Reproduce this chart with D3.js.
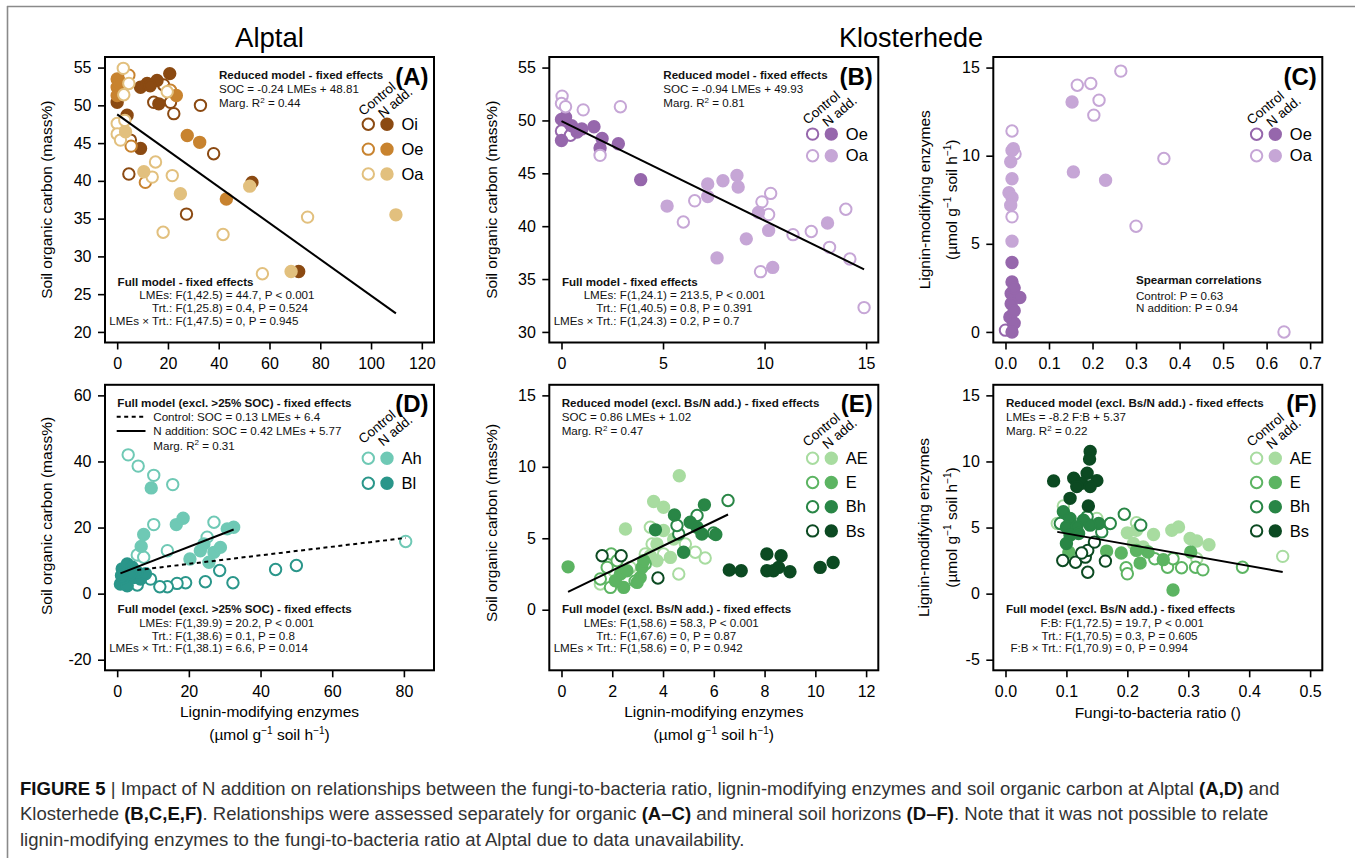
<!DOCTYPE html>
<html><head><meta charset="utf-8">
<script src="https://cdn.jsdelivr.net/npm/d3@7/dist/d3.min.js"></script>
<style>
html,body{margin:0;padding:0;background:#fff;}
svg{display:block;font-family:"Liberation Sans",Arial,Helvetica,sans-serif;}
</style></head><body>
<svg id="c" width="1355" height="858"></svg>
<script>
// ---------------- DATA ----------------
// Panel A (Alptal, organic horizons): [LMEs, SOC]
const A_Oi_ctrl = [[18.3,52.7],[14.4,50.4],[21.0,50.4],[22.3,48.9],[32.8,50.0],[5.2,45.4],[38.0,43.6],[4.6,40.9],[27.3,35.6]];
const A_Oi_N    = [[0,50.4],[9.2,52.4],[11.8,52.9],[15.7,53.3],[20.7,54.2],[16.4,50.2],[3.9,48.7],[9.2,44.3],[53.1,39.8],[71.5,28.0],[13.0,52.6]];
const A_Oe_ctrl = [[4.6,54.0],[5.5,44.6],[11.1,39.8],[21.0,52.0]];
const A_Oe_N    = [[0,53.5],[0,52.4],[0,51.3],[23.3,51.3],[27.6,46.0],[32.5,45.1],[43.0,37.6],[1.0,53.0]];
const A_Oa_ctrl = [[2.4,54.9],[4.6,52.9],[2.6,51.4],[0,47.6],[0,46.2],[1.3,45.4],[15.1,42.5],[13.8,40.5],[21.7,40.7],[18.1,33.2],[41.7,32.9],[75.0,35.2],[57.2,27.7],[19.7,51.8],[3.0,48.0]];
const A_Oa_N    = [[3.3,46.5],[10.5,41.2],[24.9,38.3],[52.2,39.3],[109.8,35.5],[68.5,28.0]];
const A_fit = [-0.24, 48.81];

// Panel B (Klosterhede, organic): [LMEs, SOC]
const B_Oe_ctrl = [[0,49.0],[0.44,48.6]];
const B_Oe_N    = [[0,50.1],[0,48.1],[0.5,49.5],[1.0,49.2],[0.77,48.9],[1.6,49.4],[2.0,48.3],[1.9,47.4],[2.8,47.8],[3.9,44.4],[0.2,50.3]];
const B_Oa_ctrl = [[0.03,52.3],[0,51.6],[0.2,51.3],[1.07,51.0],[2.9,51.3],[1.9,46.7],[6.0,40.4],[6.56,42.4],[9.87,42.3],[10.3,43.1],[10.2,41.1],[9.8,35.7],[11.4,39.2],[12.3,39.5],[13.2,38.0],[14.0,41.6],[14.2,36.9],[14.9,32.3]];
const B_Oa_N    = [[5.2,41.9],[7.2,44.0],[7.2,42.8],[7.95,44.3],[7.66,37.0],[8.64,44.8],[8.7,43.7],[9.1,38.8],[9.7,41.3],[10.2,39.6],[10.4,36.1],[13.1,40.3]];
const B_fit = [-0.94, 49.93];

// Panel C (Klosterhede, organic): [F:B, LMEs]
const C_Oe_ctrl = [[0.0,0.1],[0.02,0.5]];
const C_Oe_N    = [[0.015,3.94],[0.015,2.84],[0.013,2.18],[0.033,1.95],[0.013,1.6],[0.01,0.85],[0.018,0.48],[0.015,0.0],[0.02,1.2],[0.02,2.5]];
const C_Oa_ctrl = [[0.265,14.8],[0.165,14.0],[0.196,14.1],[0.215,13.15],[0.203,12.3],[0.364,9.84],[0.30,6.0],[0.64,0.0],[0.015,11.4],[0.022,10.1],[0.015,6.53]];
const C_Oa_N    = [[0.153,13.05],[0.156,9.08],[0.23,8.61],[0.015,10.3],[0.012,9.65],[0.015,8.69],[0.008,7.9],[0.015,7.63],[0.012,7.19],[0.015,5.15],[0.018,10.4]];

// Panel D (Alptal, mineral): [LMEs, SOC]
const D_Ah_ctrl = [[3.07,42.0],[5.86,38.6],[10.2,35.8],[15.5,33.0],[10.2,20.9],[27.0,21.6],[80.5,15.8],[25.1,17.1],[14.0,13.0],[5.6,11.7],[7.4,11.0]];
const D_Ah_N    = [[9.5,32.0],[16.5,20.9],[18.4,22.8],[32.5,20.1],[30.7,19.6],[7.4,17.9],[6.7,14.3],[20.3,10.5],[23.2,13.0],[27.0,12.5],[28.8,14.0],[25.6,9.5],[24.2,15.0]];
const D_Bl_ctrl = [[28.6,7.0],[44.2,7.3],[50.0,8.5],[32.3,3.3],[24.6,3.6],[19.1,3.3],[16.7,3.1],[14.0,2.1],[11.9,2.1],[9.3,4.4],[5.6,2.6]];
const D_Bl_N    = [[1.4,7.5],[2.8,9.0],[4.2,8.0],[0.9,2.9],[2.8,2.4],[4.6,4.9],[6.5,4.4],[7.9,6.0],[1.8,4.9],[5.6,6.5],[3.7,6.0],[1.2,5.5]];
const D_fit_ctrl = [0.13, 6.4];
const D_fit_N    = [0.42, 5.77];

// Panel E (Klosterhede, mineral): [LMEs, SOC]
const E_AE_ctrl = [[5.66,3.62],[4.62,2.5],[1.53,1.8],[2.06,2.73],[2.71,2.96],[3.5,5.77],[3.57,4.6],[4.02,3.9],[4.88,4.6],[5.27,4.02],[3.3,3.9]];
const E_AE_N    = [[4.64,9.37],[3.63,7.57],[4.02,7.17],[2.52,5.65],[4.02,5.54],[3.76,4.6],[4.29,3.66],[3.76,3.43],[3.5,3.78],[4.42,4.95]];
const E_E_ctrl  = [[1.53,2.15],[1.93,1.56],[1.96,3.9],[1.8,2.96],[2.19,3.43],[2.9,2.0],[3.3,3.2]];
const E_E_N     = [[0.26,3.0],[2.45,1.56],[3.1,2.26],[3.17,2.96],[2.32,2.5],[3.24,3.43],[2.12,2.03],[2.98,1.91],[2.58,2.73]];
const E_Bh_ctrl = [[6.56,7.64],[4.62,5.3],[5.34,6.59],[5.99,5.37],[4.55,5.89]];
const E_Bh_N    = [[5.63,7.34],[4.45,6.63],[3.7,5.59],[6.08,5.26],[4.81,4.02],[5.07,6.12],[5.34,5.77],[5.53,5.3]];
const E_Bs_ctrl = [[1.6,3.78],[2.35,3.78],[3.8,2.22]];
const E_Bs_N    = [[6.61,2.78],[7.08,2.73],[8.09,3.9],[8.65,3.78],[8.09,2.73],[8.55,2.96],[9.0,2.66],[10.19,2.96],[10.7,3.3],[8.35,2.73]];
const E_fit = [0.86, 1.02];

// Panel F (Klosterhede, mineral): [F:B, LMEs]
const F_AE_ctrl = [[0.455,2.82],[0.085,5.31],[0.15,5.69],[0.215,5.36],[0.314,2.64],[0.095,6.63]];
const F_AE_N    = [[0.2,4.6],[0.215,4.8],[0.243,4.47],[0.273,4.8],[0.284,5.05],[0.303,4.17],[0.314,3.98],[0.334,3.7],[0.21,3.79],[0.226,3.53]];
const F_E_ctrl  = [[0.198,1.96],[0.2,1.5],[0.245,2.64],[0.266,2.0],[0.289,1.96],[0.312,2.0],[0.324,1.8],[0.389,2.0],[0.275,2.64]];
const F_E_N     = [[0.104,3.15],[0.166,3.22],[0.19,3.07],[0.221,2.31],[0.234,3.15],[0.259,2.57],[0.304,3.15],[0.275,0.28],[0.215,3.27]];
const F_Bh_ctrl = [[0.09,5.31],[0.134,5.81],[0.158,4.67],[0.172,5.31],[0.195,6.01],[0.222,5.18]];
const F_Bh_N    = [[0.095,6.2],[0.106,5.69],[0.128,5.56],[0.153,5.31],[0.1,5.05],[0.117,5.05],[0.139,5.18],[0.106,4.42],[0.12,4.55],[0.1,3.79]];
const F_Bs_ctrl = [[0.094,2.51],[0.115,2.38],[0.131,2.76],[0.135,3.27],[0.146,3.9],[0.135,1.62],[0.164,2.46],[0.125,3.07]];
const F_Bs_N    = [[0.079,8.53],[0.139,10.76],[0.138,10.18],[0.112,8.73],[0.134,9.11],[0.125,8.35],[0.15,8.55],[0.139,8.1],[0.117,8.1],[0.106,7.21],[0.136,6.63]];
const F_fit = [-8.2, 5.37];

// axis limits and ticks
const A_xlim=[0,120], A_ylim=[20,55], A_xTicks=[0,20,40,60,80,100,120], A_yTicks=[20,25,30,35,40,45,50,55];
const B_xlim=[0,15],  B_ylim=[30,55], B_xTicks=[0,5,10,15],             B_yTicks=[30,35,40,45,50,55];
const C_xlim=[0,0.7], C_ylim=[0,15],  C_xTicks=[0,0.1,0.2,0.3,0.4,0.5,0.6,0.7], C_yTicks=[0,5,10,15];
const D_xlim=[0,85],  D_ylim=[-20,60],D_xTicks=[0,20,40,60,80],          D_yTicks=[-20,0,20,40,60];
const E_xlim=[0,12],  E_ylim=[-3.5,15],E_xTicks=[0,2,4,6,8,10,12],       E_yTicks=[0,5,10,15];
const F_xlim=[0,0.5], F_ylim=[-5,15], F_xTicks=[0,0.1,0.2,0.3,0.4,0.5],  F_yTicks=[-5,0,5,10,15];

// colours
const COL_Oi="#8b4a12", COL_OeA="#c8832f", COL_OaA="#e2c07e";
const COL_OeK="#9667ac", COL_OaK="#c6a6d6";
const COL_Ah="#6fc9b5", COL_Bl="#2a968a";
const COL_AE="#a8dca0", COL_E="#5cb462", COL_Bh="#298646", COL_Bs="#0c4a22";

// ---------------- DRAWING ----------------
const svg = d3.select("#c");
const BW = 329, BH = 285.5;
const LEFTS = [105, 549.3, 993.3], TOPS = [57, 384.8];
const TXT = "#111";

function ext(l){const r=l[1]-l[0];return [l[0]-0.04*r,l[1]+0.04*r];}
function fmt(f){const g=d3.format(f);return d=>g(d).replace("\u2212","-");}

// frame
svg.append("line").attr("x1",7).attr("x2",1355).attr("y1",6.5).attr("y2",6.5).attr("stroke","#8a8a8a").attr("stroke-width",1.6);
svg.append("line").attr("x1",7.5).attr("x2",7.5).attr("y1",6).attr("y2",858).attr("stroke","#8a8a8a").attr("stroke-width",1.6);

function makePanel(ci, ri, xlim, ylim, xTicks, yTicks, xFmt, yFmt){
  const L=LEFTS[ci], T=TOPS[ri];
  const x=d3.scaleLinear().domain(ext(xlim)).range([L,L+BW]);
  const y=d3.scaleLinear().domain(ext(ylim)).range([T+BH,T]);
  const g=svg.append("g");
  const ax=g.append("g").attr("transform",`translate(0,${T+BH})`)
    .call(d3.axisBottom(x).tickValues(xTicks).tickFormat(fmt(xFmt)).tickSize(7).tickPadding(8.5));
  const ay=g.append("g").attr("transform",`translate(${L},0)`)
    .call(d3.axisLeft(y).tickValues(yTicks).tickFormat(fmt(yFmt)).tickSize(7).tickPadding(6.5));
  [ax,ay].forEach(a=>{
    a.attr("font-family",null).attr("font-size",16);
    a.select(".domain").remove();
    a.selectAll("line").attr("stroke","#000").attr("stroke-width",1.6);
    a.selectAll("text").attr("fill","#000");
  });
  const pts=g.append("g");
  const over=g.append("g");
  g.append("rect").attr("x",L).attr("y",T).attr("width",BW).attr("height",BH)
    .attr("fill","none").attr("stroke","#000").attr("stroke-width",2);
  return {g,pts,over,x,y,L,T};
}

function points(p, data, color, filled){
  p.pts.append("g").selectAll("circle").data(data).join("circle")
    .attr("cx",d=>p.x(d[0])).attr("cy",d=>p.y(d[1])).attr("r",5.7)
    .attr("fill",filled?color:"#fff").attr("stroke",color).attr("stroke-width",2);
}

function fitLine(p, coef, xs, dash){
  const [a,b]=coef; const [x0,x1]=d3.extent(xs);
  p.over.append("line").attr("x1",p.x(x0)).attr("y1",p.y(a*x0+b))
    .attr("x2",p.x(x1)).attr("y2",p.y(a*x1+b))
    .attr("stroke","#000").attr("stroke-width",2).attr("stroke-dasharray",dash||null);
}

function txt(g, x, y, s, o={}){
  const t=g.append("text").attr("x",x).attr("y",y).attr("dy",o.dy===undefined?"0.35em":o.dy)
    .attr("font-size",o.fs||11.6).attr("font-weight",o.b?"bold":null)
    .attr("text-anchor",o.a||"start").attr("fill",o.c||TXT);
  if(o.rot!==undefined) t.attr("transform",`rotate(${o.rot},${x},${y})`);
  if(typeof s==="string") t.text(s);
  else s.forEach(part=>{
    const ts=t.append("tspan").text(part.t);
    if(part.b) ts.attr("font-weight","bold");
    if(part.fs) ts.attr("font-size",part.fs);
    if(part.dy!==undefined) ts.attr("dy",part.dy);
  });
  return t;
}
function margR2(g,x,y,val){
  return txt(g,x,y,[{t:"Marg. R"},{t:"2",fs:8,dy:-4.5},{t:" = "+val,dy:4.5}]);
}
function fullBlock(p, title, rows, labRight){
  const g=p.over, L=p.L, T=p.T;
  txt(g,L+12.6,T+224.6,title,{b:true});
  const ys=[238,251.2,263.6];
  rows.forEach((r,i)=>{
    txt(g,L+labRight,T+ys[i],r[0],{a:"end"});
    txt(g,L+labRight+3.3,T+ys[i],r[1]);
  });
}
function panelLabel(p, s){
  txt(p.over,p.L+323.5,p.T+27.5,s,{b:true,fs:24,dy:0,c:"#000",a:"end"});
}
function legend(p, items, row0, step, ctlDy){
  const ox=p.L+263.3, fx=p.L+282, lx=p.L+296.5, g=p.over;
  items.forEach((it,i)=>{
    const yy=p.T+row0+i*step;
    g.append("circle").attr("cx",ox).attr("cy",yy).attr("r",5.7).attr("fill","#fff").attr("stroke",it[1]).attr("stroke-width",2);
    g.append("circle").attr("cx",fx).attr("cy",yy).attr("r",5.7).attr("fill",it[1]).attr("stroke",it[1]).attr("stroke-width",2);
    txt(g,lx,yy,it[0],{fs:16.5,c:"#000"});
  });
  const y1=p.T+row0;
  txt(g,ox-5,y1+ctlDy,"Control",{fs:13.5,dy:0,rot:-40,c:"#000"});
  txt(g,fx-4,y1+ctlDy+2.5,"N add.",{fs:13.5,dy:0,rot:-40,c:"#000"});
}
function supLabel(g,x,y,rot){
  return txt(g,x,y,[{t:"(µmol g"},{t:"\u22121",fs:10,dy:-6},{t:" soil h",dy:6},{t:"\u22121",fs:10,dy:-6},{t:")",dy:6}],{fs:15.5,a:"middle",rot:rot,c:"#000"});
}

// titles
txt(svg,269.5,47,"Alptal",{fs:27.5,a:"middle",dy:0,c:"#000"});
txt(svg,911,47,"Klosterhede",{fs:27,a:"middle",dy:0,c:"#000"});

// ----- Panel A -----
const pA=makePanel(0,0,A_xlim,A_ylim,A_xTicks,A_yTicks,"d","d");
[[A_Oi_ctrl,A_Oi_N,COL_Oi],[A_Oe_ctrl,A_Oe_N,COL_OeA],[A_Oa_ctrl,A_Oa_N,COL_OaA]].forEach(s=>{points(pA,s[0],s[2],false);points(pA,s[1],s[2],true);});
fitLine(pA,A_fit,[].concat(A_Oi_ctrl,A_Oi_N,A_Oe_ctrl,A_Oe_N,A_Oa_ctrl,A_Oa_N).map(d=>d[0]));
txt(pA.over,pA.L+114,pA.T+18,"Reduced model - fixed effects",{b:true});
txt(pA.over,pA.L+114,pA.T+32.3,"SOC = -0.24 LMEs + 48.81");
margR2(pA.over,pA.L+114,pA.T+46.3,"0.44");
fullBlock(pA,"Full model - fixed effects",[["LMEs:","F(1,42.5) = 44.7,  P < 0.001"],["Trt.:","F(1,25.8) = 0.4,  P = 0.524"],["LMEs \u00d7 Trt.:","F(1,47.5) = 0,  P = 0.945"]],67.2);
panelLabel(pA,"(A)");
legend(pA,[["Oi",COL_Oi],["Oe",COL_OeA],["Oa",COL_OaA]],67.3,24.85,-8);
txt(svg,pA.L-58.3,pA.T+BH/2,"Soil organic carbon (mass%)",{fs:15.5,a:"middle",rot:-90,c:"#000"});

// ----- Panel B -----
const pB=makePanel(1,0,B_xlim,B_ylim,B_xTicks,B_yTicks,"d","d");
[[B_Oe_ctrl,B_Oe_N,COL_OeK],[B_Oa_ctrl,B_Oa_N,COL_OaK]].forEach(s=>{points(pB,s[0],s[2],false);points(pB,s[1],s[2],true);});
fitLine(pB,B_fit,[].concat(B_Oe_ctrl,B_Oe_N,B_Oa_ctrl,B_Oa_N).map(d=>d[0]));
txt(pB.over,pB.L+114,pB.T+18,"Reduced model - fixed effects",{b:true});
txt(pB.over,pB.L+114,pB.T+32.3,"SOC = -0.94 LMEs + 49.93");
margR2(pB.over,pB.L+114,pB.T+46.3,"0.81");
fullBlock(pB,"Full model - fixed effects",[["LMEs:","F(1,24.1) = 213.5,  P < 0.001"],["Trt.:","F(1,40.5) = 0.8,  P = 0.391"],["LMEs \u00d7 Trt.:","F(1,24.3) = 0.2,  P = 0.7"]],67.2);
panelLabel(pB,"(B)");
legend(pB,[["Oe",COL_OeK],["Oa",COL_OaK]],77.1,21.6,-9);
txt(svg,pB.L-57.8,pB.T+BH/2,"Soil organic carbon (mass%)",{fs:15.5,a:"middle",rot:-90,c:"#000"});

// ----- Panel C -----
const pC=makePanel(2,0,C_xlim,C_ylim,C_xTicks,C_yTicks,".1f","d");
[[C_Oe_ctrl,C_Oe_N,COL_OeK],[C_Oa_ctrl,C_Oa_N,COL_OaK]].forEach(s=>{points(pC,s[0],s[2],false);points(pC,s[1],s[2],true);});
txt(pC.over,pC.L+142.7,pC.T+223,"Spearman correlations",{b:true});
txt(pC.over,pC.L+142.7,pC.T+239,"Control: P = 0.63");
txt(pC.over,pC.L+142.7,pC.T+251.3,"N addition: P = 0.94");
panelLabel(pC,"(C)");
legend(pC,[["Oe",COL_OeK],["Oa",COL_OaK]],77.3,21.4,-9);
txt(svg,pC.L-69,pC.T+BH/2,"Lignin-modifying enzymes",{fs:15.5,a:"middle",rot:-90,c:"#000"});
supLabel(svg,pC.L-42,pC.T+BH/2,-90);

// ----- Panel D -----
const pD=makePanel(0,1,D_xlim,D_ylim,D_xTicks,D_yTicks,"d","d");
[[D_Ah_ctrl,D_Ah_N,COL_Ah],[D_Bl_ctrl,D_Bl_N,COL_Bl]].forEach(s=>{points(pD,s[0],s[2],false);points(pD,s[1],s[2],true);});
const dCtrl=[].concat(D_Ah_ctrl,D_Bl_ctrl).filter(d=>d[1]<25).map(d=>d[0]);
const dN=[].concat(D_Ah_N,D_Bl_N).filter(d=>d[1]<25).map(d=>d[0]);
fitLine(pD,D_fit_ctrl,dCtrl,"4,3.5");
fitLine(pD,D_fit_N,dN);
txt(pD.over,pD.L+12.3,pD.T+17.9,"Full model (excl. >25% SOC) - fixed effects",{b:true});
pD.over.append("line").attr("x1",pD.L+11.7).attr("x2",pD.L+39.5).attr("y1",pD.T+31.9).attr("y2",pD.T+31.9).attr("stroke","#000").attr("stroke-width",2).attr("stroke-dasharray","4,3.5");
pD.over.append("line").attr("x1",pD.L+11.7).attr("x2",pD.L+40.5).attr("y1",pD.T+46.2).attr("y2",pD.T+46.2).attr("stroke","#000").attr("stroke-width",2);
txt(pD.over,pD.L+48.3,pD.T+31.9,"Control: SOC = 0.13 LMEs + 6.4");
txt(pD.over,pD.L+48.3,pD.T+46.2,"N addition: SOC = 0.42 LMEs + 5.77");
margR2(pD.over,pD.L+48.3,pD.T+60.9,"0.31");
fullBlock(pD,"Full model (excl. >25% SOC) - fixed effects",[["LMEs:","F(1,39.9) = 20.2,  P < 0.001"],["Trt.:","F(1,38.6) = 0.1,  P = 0.8"],["LMEs \u00d7 Trt.:","F(1,38.1) = 6.6,  P = 0.014"]],67.0);
panelLabel(pD,"(D)");
legend(pD,[["Ah",COL_Ah],["Bl",COL_Bl]],73.5,25,-14);
txt(svg,pD.L-58.3,pD.T+131.2,"Soil organic carbon (mass%)",{fs:15.5,a:"middle",rot:-90,c:"#000"});
txt(svg,pD.L+BW/2,pD.T+BH+41.3,"Lignin-modifying enzymes",{fs:15.5,a:"middle",c:"#000"});
supLabel(svg,pD.L+BW/2,pD.T+BH+64.2);

// ----- Panel E -----
const pE=makePanel(1,1,E_xlim,E_ylim,E_xTicks,E_yTicks,"d","d");
[[E_AE_ctrl,E_AE_N,COL_AE],[E_E_ctrl,E_E_N,COL_E],[E_Bh_ctrl,E_Bh_N,COL_Bh],[E_Bs_ctrl,E_Bs_N,COL_Bs]].forEach(s=>{points(pE,s[0],s[2],false);points(pE,s[1],s[2],true);});
fitLine(pE,E_fit,[].concat(E_AE_ctrl,E_AE_N,E_E_ctrl,E_E_N,E_Bh_ctrl,E_Bh_N,E_Bs_ctrl).map(d=>d[0]));
txt(pE.over,pE.L+12.4,pE.T+17.9,"Reduced model (excl. Bs/N add.) - fixed effects",{b:true});
txt(pE.over,pE.L+12.4,pE.T+31.9,"SOC = 0.86 LMEs + 1.02");
margR2(pE.over,pE.L+12.4,pE.T+46.2,"0.47");
fullBlock(pE,"Full model (excl. Bs/N add.) - fixed effects",[["LMEs:","F(1,58.6) = 58.3,  P < 0.001"],["Trt.:","F(1,67.6) = 0,  P = 0.87"],["LMEs \u00d7 Trt.:","F(1,58.6) = 0,  P = 0.942"]],67.2);
panelLabel(pE,"(E)");
legend(pE,[["AE",COL_AE],["E",COL_E],["Bh",COL_Bh],["Bs",COL_Bs]],73.5,24.2,-11);
txt(svg,pE.L-57.8,pE.T+138.2,"Soil organic carbon (mass%)",{fs:15.5,a:"middle",rot:-90,c:"#000"});
txt(svg,pE.L+BW/2,pE.T+BH+41.3,"Lignin-modifying enzymes",{fs:15.5,a:"middle",c:"#000"});
supLabel(svg,pE.L+BW/2,pE.T+BH+64.2);

// ----- Panel F -----
const pF=makePanel(2,1,F_xlim,F_ylim,F_xTicks,F_yTicks,".1f","d");
[[F_AE_ctrl,F_AE_N,COL_AE],[F_E_ctrl,F_E_N,COL_E],[F_Bh_ctrl,F_Bh_N,COL_Bh],[F_Bs_ctrl,F_Bs_N,COL_Bs]].forEach(s=>{points(pF,s[0],s[2],false);points(pF,s[1],s[2],true);});
fitLine(pF,F_fit,[].concat(F_AE_ctrl,F_AE_N,F_E_ctrl,F_E_N,F_Bh_ctrl,F_Bh_N,F_Bs_ctrl).map(d=>d[0]));
txt(pF.over,pF.L+12.7,pF.T+17.9,"Reduced model (excl. Bs/N add.) - fixed effects",{b:true});
txt(pF.over,pF.L+12.7,pF.T+31.9,"LMEs = -8.2 F:B + 5.37");
margR2(pF.over,pF.L+12.7,pF.T+46.2,"0.22");
fullBlock(pF,"Full model (excl. Bs/N add.) - fixed effects",[["F:B:","F(1,72.5) = 19.7,  P < 0.001"],["Trt.:","F(1,70.5) = 0.3,  P = 0.605"],["F:B \u00d7 Trt.:","F(1,70.9) = 0,  P = 0.994"]],68.4);
panelLabel(pF,"(F)");
legend(pF,[["AE",COL_AE],["E",COL_E],["Bh",COL_Bh],["Bs",COL_Bs]],73.5,24.2,-11);
txt(svg,pF.L-70,pF.T+142.7,"Lignin-modifying enzymes",{fs:15.5,a:"middle",rot:-90,c:"#000"});
supLabel(svg,pF.L-42,pF.T+142.7,-90);
txt(svg,pF.L+BW/2,pF.T+BH+42,"Fungi-to-bacteria ratio ()",{fs:15.5,a:"middle",c:"#000"});

// ----- Caption -----
const capLines=[
  [{t:"FIGURE 5",b:true},{t:" | "},{t:"Impact of N addition on relationships between the fungi-to-bacteria ratio, lignin-modifying enzymes and soil organic carbon at Alptal "},{t:"(A,D)",b:true},{t:" and"}],
  [{t:"Klosterhede "},{t:"(B,C,E,F)",b:true},{t:". Relationships were assessed separately for organic "},{t:"(A\u2013C)",b:true},{t:" and mineral soil horizons "},{t:"(D\u2013F)",b:true},{t:". Note that it was not possible to relate"}],
  [{t:"lignin-modifying enzymes to the fungi-to-bacteria ratio at Alptal due to data unavailability."}]
];
const capY=[794.5,820,845.5];
const capNodes=capLines.map((parts,i)=>txt(svg,20,capY[i],parts,{fs:15,dy:0,c:"#333"}));
capNodes.forEach(n=>n.selectAll("tspan").filter(function(){return d3.select(this).attr("font-weight")==="bold";}).attr("fill","#111"));
const w1=capNodes[0].node().getComputedTextLength();
const fs=15*1261/w1;
capNodes.forEach(n=>n.attr("font-size",fs));
</script></body></html>
